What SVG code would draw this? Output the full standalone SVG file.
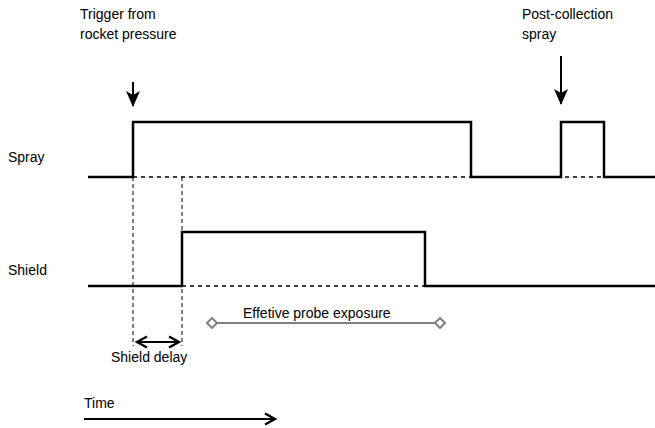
<svg xmlns="http://www.w3.org/2000/svg" width="655" height="428" viewBox="0 0 655 428">
<defs>
<style>
text{font-family:"Liberation Sans",Arial,sans-serif;font-size:14px;fill:#000}
.sig{fill:none;stroke:#000;stroke-width:2.5}
.dash{fill:none;stroke:#000;stroke-width:1.5;stroke-dasharray:4 4}
.vd{fill:none;stroke:#000;stroke-width:1;stroke-dasharray:4 3}
.arr{fill:none;stroke:#000;stroke-width:2}
</style>
<marker id="ah" viewBox="0 0 14 14" refX="12" refY="7" markerWidth="14" markerHeight="14" orient="auto-start-reverse" markerUnits="userSpaceOnUse">
<path d="M2,1.5 L12,7 L2,12.5" fill="none" stroke="#000" stroke-width="2.2"/>
</marker>
<marker id="ahf" viewBox="0 0 16 14" refX="15" refY="7" markerWidth="16" markerHeight="14" orient="auto" markerUnits="userSpaceOnUse">
<path d="M0,0 L16,7 L0,14 L4,7 Z" fill="#000"/>
</marker>
<marker id="dia" viewBox="0 0 12 12" refX="6" refY="6" markerWidth="12" markerHeight="12" orient="auto" markerUnits="userSpaceOnUse">
<path d="M6,1 L11,6 L6,11 L1,6 Z" fill="#fff" stroke="#808080" stroke-width="2"/>
</marker>
</defs>
<g id="labels">
<text x="80" y="19">Trigger from</text>
<text x="80" y="39">rocket pressure</text>
<text x="522" y="19">Post-collection</text>
<text x="522" y="39">spray</text>
<text x="8" y="162">Spray</text>
<text x="8" y="275">Shield</text>
</g>
<g id="spray">
<path class="dash" d="M133,177 H655"/>
<path class="sig" d="M88,177 H133 V122 H471 V177 H561 V122 H604 V177 H655"/>
</g>
<g id="shield">
<path class="dash" d="M182,286 H655"/>
<path class="sig" d="M88,286 H182 V232 H425 V286 H655"/>
</g>
<g id="connectors">
<path class="vd" d="M133,177 V346"/>
<path class="vd" d="M182,177 V346"/>
<path class="arr" d="M133,82 V106" stroke-width="3" marker-end="url(#ahf)"/>
<path class="arr" d="M561,56 V104" stroke-width="3" marker-end="url(#ahf)"/>
<path class="arr" d="M137,342 H179" marker-start="url(#ah)" marker-end="url(#ah)"/>
<path d="M212,323 H440" stroke="#808080" stroke-width="2" marker-start="url(#dia)" marker-end="url(#dia)"/>
<path class="arr" d="M84,419 H275" stroke-width="2.5" marker-end="url(#ah)"/>
</g>
<g id="annotations">
<text x="111" y="362">Shield delay</text>
<text x="243" y="318">Effetive probe exposure</text>
<text x="84" y="408">Time</text>
</g>
</svg>
